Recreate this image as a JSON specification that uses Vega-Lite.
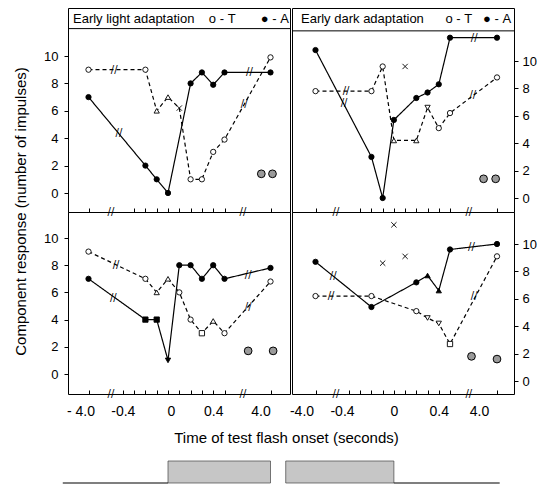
{
  "$schema": "https://vega.github.io/schema/vega-lite/v6.json",
  "padding": {"left": 12, "top": 7, "right": 0, "bottom": 0},
  "background": "white",
  "config": {
    "view": {"stroke": "black", "strokeWidth": 1},
    "axis": {"labelFont": "Liberation Sans", "titleFont": "Liberation Sans", "labelColor": "black", "tickColor": "black", "titleColor": "black", "grid": false, "domain": false, "titleFontWeight": "normal", "labelOverlap": false, "labelBound": false, "labelFlush": false, "tickCount": 30},
    "text": {"font": "DejaVu Sans"}
  },
  "datasets": {
    "d": [
      {"p": "TL", "s": "T", "t": -4, "v": 9, "m": "o"},
      {"p": "TL", "s": "T", "t": -0.2, "v": 9, "m": "o"},
      {"p": "TL", "s": "T", "t": -0.1, "v": 6, "m": "tu"},
      {"p": "TL", "s": "T", "t": 0, "v": 7, "m": "tu"},
      {"p": "TL", "s": "T", "t": 0.1, "v": 6.2, "m": "x"},
      {"p": "TL", "s": "T", "t": 0.2, "v": 1, "m": "o"},
      {"p": "TL", "s": "T", "t": 0.3, "v": 1, "m": "o"},
      {"p": "TL", "s": "T", "t": 0.4, "v": 3, "m": "o"},
      {"p": "TL", "s": "T", "t": 0.5, "v": 3.9, "m": "o"},
      {"p": "TL", "s": "T", "t": 4, "v": 9.9, "m": "o"},
      {"p": "TL", "s": "A", "t": -4, "v": 7, "m": "o"},
      {"p": "TL", "s": "A", "t": -0.2, "v": 2, "m": "o"},
      {"p": "TL", "s": "A", "t": -0.1, "v": 1, "m": "o"},
      {"p": "TL", "s": "A", "t": 0, "v": 0, "m": "o"},
      {"p": "TL", "s": "A", "t": 0.2, "v": 8, "m": "o"},
      {"p": "TL", "s": "A", "t": 0.3, "v": 8.8, "m": "o"},
      {"p": "TL", "s": "A", "t": 0.4, "v": 7.9, "m": "o"},
      {"p": "TL", "s": "A", "t": 0.5, "v": 8.8, "m": "o"},
      {"p": "TL", "s": "A", "t": 4, "v": 8.8, "m": "o"},
      {"p": "TL", "s": "brk", "t": -1.3, "v": 9},
      {"p": "TL", "s": "brk", "t": -0.8, "v": 4.4},
      {"p": "TL", "s": "brk", "t": 2.0, "v": 6.5},
      {"p": "TL", "s": "brk", "t": 2.4, "v": 8.8},
      {"p": "TL", "s": "brk", "t": -1.64, "v": -1.39},
      {"p": "TL", "s": "brk", "t": 1.9, "v": -1.39},
      {"p": "TL", "s": "hatch", "t": 3.3, "v": 1.4},
      {"p": "TL", "s": "hatch", "t": 4.15, "v": 1.4},

      {"p": "TR", "s": "A", "t": -4, "v": 10.8, "m": "o"},
      {"p": "TR", "s": "A", "t": -0.2, "v": 3.0, "m": "o"},
      {"p": "TR", "s": "A", "t": -0.1, "v": 0, "m": "o"},
      {"p": "TR", "s": "A", "t": 0, "v": 5.7, "m": "o"},
      {"p": "TR", "s": "A", "t": 0.2, "v": 7.3, "m": "o"},
      {"p": "TR", "s": "A", "t": 0.3, "v": 7.7, "m": "o"},
      {"p": "TR", "s": "A", "t": 0.4, "v": 8.3, "m": "o"},
      {"p": "TR", "s": "A", "t": 0.5, "v": 11.7, "m": "o"},
      {"p": "TR", "s": "A", "t": 4, "v": 11.7, "m": "o"},
      {"p": "TR", "s": "T", "t": -4, "v": 7.8, "m": "o"},
      {"p": "TR", "s": "T", "t": -0.2, "v": 7.8, "m": "o"},
      {"p": "TR", "s": "T", "t": -0.1, "v": 9.6, "m": "o"},
      {"p": "TR", "s": "T", "t": 0, "v": 4.2, "m": "tu"},
      {"p": "TR", "s": "T", "t": 0.2, "v": 4.2, "m": "tu"},
      {"p": "TR", "s": "T", "t": 0.3, "v": 6.6, "m": "td"},
      {"p": "TR", "s": "T", "t": 0.4, "v": 5.1, "m": "o"},
      {"p": "TR", "s": "T", "t": 0.5, "v": 6.2, "m": "o"},
      {"p": "TR", "s": "T", "t": 4, "v": 8.8, "m": "o"},
      {"p": "TR", "s": "X", "t": 0.1, "v": 9.6, "m": "x"},
      {"p": "TR", "s": "brk", "t": -0.72, "v": 7.8},
      {"p": "TR", "s": "brk", "t": -0.93, "v": 6.9},
      {"p": "TR", "s": "brk", "t": 2.2, "v": 7.5},
      {"p": "TR", "s": "brk", "t": 2.3, "v": 11.7},
      {"p": "TR", "s": "brk", "t": -1.8, "v": -1.02},
      {"p": "TR", "s": "brk", "t": 1.9, "v": -1.02},
      {"p": "TR", "s": "hatch", "t": 3.0, "v": 1.4},
      {"p": "TR", "s": "hatch", "t": 3.9, "v": 1.4},

      {"p": "BL", "s": "T", "t": -4, "v": 9, "m": "o"},
      {"p": "BL", "s": "T", "t": -0.2, "v": 7, "m": "o"},
      {"p": "BL", "s": "T", "t": -0.1, "v": 6, "m": "tu"},
      {"p": "BL", "s": "T", "t": 0, "v": 7, "m": "tu"},
      {"p": "BL", "s": "T", "t": 0.1, "v": 6, "m": "o"},
      {"p": "BL", "s": "T", "t": 0.2, "v": 4, "m": "o"},
      {"p": "BL", "s": "T", "t": 0.3, "v": 3, "m": "s"},
      {"p": "BL", "s": "T", "t": 0.4, "v": 3.9, "m": "tu"},
      {"p": "BL", "s": "T", "t": 0.5, "v": 3, "m": "o"},
      {"p": "BL", "s": "T", "t": 4, "v": 6.8, "m": "o"},
      {"p": "BL", "s": "A", "t": -4, "v": 7, "m": "o"},
      {"p": "BL", "s": "A", "t": -0.2, "v": 4, "m": "s"},
      {"p": "BL", "s": "A", "t": -0.1, "v": 4, "m": "s"},
      {"p": "BL", "s": "A", "t": 0, "v": 1, "m": "td"},
      {"p": "BL", "s": "A", "t": 0.1, "v": 8, "m": "o"},
      {"p": "BL", "s": "A", "t": 0.2, "v": 8, "m": "o"},
      {"p": "BL", "s": "A", "t": 0.3, "v": 7, "m": "o"},
      {"p": "BL", "s": "A", "t": 0.4, "v": 8, "m": "o"},
      {"p": "BL", "s": "A", "t": 0.5, "v": 7, "m": "o"},
      {"p": "BL", "s": "A", "t": 4, "v": 7.8, "m": "o"},
      {"p": "BL", "s": "brk", "t": -1.1, "v": 8.0},
      {"p": "BL", "s": "brk", "t": -1.4, "v": 5.6},
      {"p": "BL", "s": "brk", "t": 2.3, "v": 4.9},
      {"p": "BL", "s": "brk", "t": 2.3, "v": 7.3},
      {"p": "BL", "s": "brk", "t": -1.64, "v": -1.47},
      {"p": "BL", "s": "brk", "t": 1.9, "v": -1.47},
      {"p": "BL", "s": "hatch", "t": 2.3, "v": 1.7},
      {"p": "BL", "s": "hatch", "t": 4.2, "v": 1.7},

      {"p": "BR", "s": "A", "t": -4, "v": 8.7, "m": "o"},
      {"p": "BR", "s": "A", "t": -0.2, "v": 5.4, "m": "o"},
      {"p": "BR", "s": "A", "t": 0.2, "v": 7.2, "m": "o"},
      {"p": "BR", "s": "A", "t": 0.3, "v": 7.7, "m": "tu"},
      {"p": "BR", "s": "A", "t": 0.4, "v": 6.6, "m": "tu"},
      {"p": "BR", "s": "A", "t": 0.5, "v": 9.6, "m": "o"},
      {"p": "BR", "s": "A", "t": 4, "v": 10.0, "m": "o"},
      {"p": "BR", "s": "T", "t": -4, "v": 6.2, "m": "o"},
      {"p": "BR", "s": "T", "t": -0.2, "v": 6.2, "m": "o"},
      {"p": "BR", "s": "T", "t": 0.2, "v": 5.1, "m": "o"},
      {"p": "BR", "s": "T", "t": 0.3, "v": 4.6, "m": "td"},
      {"p": "BR", "s": "T", "t": 0.4, "v": 4.2, "m": "td"},
      {"p": "BR", "s": "T", "t": 0.5, "v": 2.7, "m": "s"},
      {"p": "BR", "s": "T", "t": 4, "v": 9.1, "m": "o"},
      {"p": "BR", "s": "X", "t": 0, "v": 11.4, "m": "x"},
      {"p": "BR", "s": "X", "t": -0.1, "v": 8.6, "m": "x"},
      {"p": "BR", "s": "X", "t": 0.1, "v": 9.1, "m": "x"},
      {"p": "BR", "s": "brk", "t": -2.1, "v": 7.7},
      {"p": "BR", "s": "brk", "t": -2.33, "v": 6.2},
      {"p": "BR", "s": "brk", "t": 2.1, "v": 9.8},
      {"p": "BR", "s": "brk", "t": 2.3, "v": 6.2},
      {"p": "BR", "s": "brk", "t": -1.8, "v": -0.95},
      {"p": "BR", "s": "brk", "t": 1.9, "v": -0.95},
      {"p": "BR", "s": "hatch", "t": 2.1, "v": 1.8},
      {"p": "BR", "s": "hatch", "t": 4.0, "v": 1.6}
    ],
    "stim": [
      {"p": "L", "k": "off", "t0": -6.7, "t1": 0, "lvl": 0},
      {"p": "L", "k": "on", "t0": 0, "t1": 4.0, "lvl": 1},
      {"p": "R", "k": "on", "t0": -7.2, "t1": 0, "lvl": 1},
      {"p": "R", "k": "off", "t0": 0, "t1": 4.2, "lvl": 0}
    ]
  },
  "columns": 2,
  "spacing": {"row": 0, "column": 2},
  "bounds": "flush",
  "concat": [
    {
      "width": 222, "height": 204,
      "title": {"text": "Early light adaptation\u00a0\u00a0\u00a0\u00a0o\u00a0-\u00a0T\u00a0\u00a0\u00a0\u00a0\u00a0\u00a0\u00a0\u25cf\u00a0-\u00a0A", "frame": "group", "anchor": "start", "offset": -18, "dx": 5, "fontSize": 13, "fontWeight": "normal", "font": "Liberation Sans", "color": "black"},
      "layer": [
        {"data": {"values": [{}]}, "mark": {"type": "rule", "color": "black", "strokeWidth": 1},
         "encoding": {"y": {"datum": 12.0, "type": "quantitative", "scale": {"domain": [0, 10], "range": [185, 48]}}}},
        {"data": {"name": "d"}, "transform": [{"filter": "datum.p=='TL' && (datum.s=='A' || datum.s=='T')"}],
         "mark": {"type": "line", "color": "black", "strokeWidth": 1.2},
         "encoding": {
           "x": {"field": "t", "type": "quantitative", "scale": {"domain": [-4, -0.4, 0.5, 4], "range": [20.5, 54.8, 156.5, 202.5]},
                 "axis": {"values": [-4, -0.3, -0.2, -0.1, 0, 0.1, 0.2, 0.3, 0.4, 0.5, 4], "tickCount": 30, "labels": false, "tickSize": -4, "title": null}},
           "y": {"field": "v", "type": "quantitative", "scale": {"domain": [0, 10], "range": [185, 48]},
                 "axis": {"values": [0, 2, 4, 6, 8, 10], "format": "d", "tickCount": 30, "tickSize": 4, "labelPadding": 6, "labelFontSize": 13, "title": null}},
           "detail": {"field": "s"},
           "strokeDash": {"field": "s", "type": "nominal", "scale": {"domain": ["A", "T"], "range": [[1, 0], [4, 3]]}, "legend": null}}},
        {"data": {"name": "d"}, "transform": [{"filter": "datum.p=='TL' && (datum.s=='A' || datum.s=='T' || datum.s=='X')"}],
         "mark": {"type": "point", "filled": true, "stroke": "black", "strokeWidth": 0.9, "size": 28, "opacity": 1},
         "encoding": {
           "x": {"field": "t", "type": "quantitative"},
           "y": {"field": "v", "type": "quantitative"},
           "fill": {"field": "s", "type": "nominal", "scale": {"domain": ["A", "T", "X"], "range": ["black", "white", "white"]}, "legend": null},
           "shape": {"field": "m", "type": "nominal", "scale": {"domain": ["o", "s", "tu", "td", "x"], "range": ["circle", "square", "triangle-up", "triangle-down", "M-1,-1L1,1M-1,1L1,-1"]}, "legend": null}}},
        {"data": {"name": "d"}, "transform": [{"filter": "datum.p=='TL' && datum.s=='brk'"}],
         "mark": {"type": "text", "text": "//", "fontSize": 10, "color": "black", "baseline": "middle", "align": "center"},
         "encoding": {"x": {"field": "t", "type": "quantitative"}, "y": {"field": "v", "type": "quantitative"}}},
        {"data": {"name": "d"}, "transform": [{"filter": "datum.p=='TL' && datum.s=='hatch'"}],
         "mark": {"type": "point", "shape": "circle", "filled": true, "fill": "#9a9a9a", "stroke": "black", "strokeWidth": 1, "size": 60, "opacity": 1},
         "encoding": {"x": {"field": "t", "type": "quantitative"}, "y": {"field": "v", "type": "quantitative"}}}
      ]
    },
    {
      "width": 222, "height": 204,
      "title": {"text": "Early dark adaptation\u00a0\u00a0\u00a0\u00a0\u00a0\u00a0o\u00a0-\u00a0T\u00a0\u00a0\u00a0\u25cf\u00a0-\u00a0A", "frame": "group", "anchor": "start", "offset": -18, "dx": 9, "fontSize": 13, "fontWeight": "normal", "font": "Liberation Sans", "color": "black"},
      "layer": [
        {"data": {"values": [{}]}, "mark": {"type": "rule", "color": "black", "strokeWidth": 1},
         "encoding": {"y": {"datum": 12.2, "type": "quantitative", "scale": {"domain": [0, 10], "range": [190, 53]}}}},
        {"data": {"name": "d"}, "transform": [{"filter": "datum.p=='TR' && (datum.s=='A' || datum.s=='T')"}],
         "mark": {"type": "line", "color": "black", "strokeWidth": 1.2},
         "encoding": {
           "x": {"field": "t", "type": "quantitative", "scale": {"domain": [-4, -0.4, 0.5, 4], "range": [23.5, 57, 158, 205]},
                 "axis": {"values": [-4, -0.3, -0.2, -0.1, 0, 0.1, 0.2, 0.3, 0.4, 0.5, 4], "tickCount": 30, "labels": false, "tickSize": -4, "title": null}},
           "y": {"field": "v", "type": "quantitative", "scale": {"domain": [0, 10], "range": [190, 53]},
                 "axis": {"orient": "right", "values": [0, 2, 4, 6, 8, 10], "format": "d", "tickCount": 30, "tickSize": 4, "labelPadding": 4, "labelFontSize": 13, "title": null}},
           "detail": {"field": "s"},
           "strokeDash": {"field": "s", "type": "nominal", "scale": {"domain": ["A", "T"], "range": [[1, 0], [4, 3]]}, "legend": null}}},
        {"data": {"name": "d"}, "transform": [{"filter": "datum.p=='TR' && (datum.s=='A' || datum.s=='T' || datum.s=='X')"}],
         "mark": {"type": "point", "filled": true, "stroke": "black", "strokeWidth": 0.9, "size": 28, "opacity": 1},
         "encoding": {
           "x": {"field": "t", "type": "quantitative"},
           "y": {"field": "v", "type": "quantitative"},
           "fill": {"field": "s", "type": "nominal", "scale": {"domain": ["A", "T", "X"], "range": ["black", "white", "white"]}, "legend": null},
           "shape": {"field": "m", "type": "nominal", "scale": {"domain": ["o", "s", "tu", "td", "x"], "range": ["circle", "square", "triangle-up", "triangle-down", "M-1,-1L1,1M-1,1L1,-1"]}, "legend": null}}},
        {"data": {"name": "d"}, "transform": [{"filter": "datum.p=='TR' && datum.s=='brk'"}],
         "mark": {"type": "text", "text": "//", "fontSize": 10, "color": "black", "baseline": "middle", "align": "center"},
         "encoding": {"x": {"field": "t", "type": "quantitative"}, "y": {"field": "v", "type": "quantitative"}}},
        {"data": {"name": "d"}, "transform": [{"filter": "datum.p=='TR' && datum.s=='hatch'"}],
         "mark": {"type": "point", "shape": "circle", "filled": true, "fill": "#9a9a9a", "stroke": "black", "strokeWidth": 1, "size": 60, "opacity": 1},
         "encoding": {"x": {"field": "t", "type": "quantitative"}, "y": {"field": "v", "type": "quantitative"}}}
      ]
    },
    {
      "width": 222, "height": 182,
      "layer": [
        {"data": {"name": "d"}, "transform": [{"filter": "datum.p=='BL' && (datum.s=='A' || datum.s=='T')"}],
         "mark": {"type": "line", "color": "black", "strokeWidth": 1.2},
         "encoding": {
           "x": {"field": "t", "type": "quantitative", "scale": {"domain": [-4, -0.4, 0.5, 4], "range": [20.5, 54.8, 156.5, 202.5]},
                 "axis": {"values": [-4, -0.4, -0.3, -0.2, -0.1, 0, 0.1, 0.2, 0.3, 0.4, 0.5, 4], "tickCount": 30, "tickSize": -4, "labelPadding": 14, "labelFontSize": 14,
                          "labelExpr": "datum.value == -4 ? '- 4.0' : datum.value == -0.4 ? '-0.4' : datum.value == 0 ? '0' : datum.value == 0.4 ? '0.4' : datum.value == 4 ? '4.0' : ''",
                          "labelOffset": {"condition": [{"test": "datum.value == -4", "value": -8}, {"test": "datum.value == 4", "value": -10}, {"test": "datum.value == 0", "value": 3}], "value": 0},
                          "title": "Time of test flash onset (seconds)", "titleFontSize": 15, "titleX": 218, "titleY": 36}},
           "y": {"field": "v", "type": "quantitative", "scale": {"domain": [0, 10], "range": [162, 26]},
                 "axis": {"values": [0, 2, 4, 6, 8, 10], "format": "d", "tickCount": 30, "tickSize": 4, "labelPadding": 6, "labelFontSize": 13,
                          "title": "Component response (number of impulses)", "titleFontSize": 15, "titleX": -40, "titleY": -1}},
           "detail": {"field": "s"},
           "strokeDash": {"field": "s", "type": "nominal", "scale": {"domain": ["A", "T"], "range": [[1, 0], [4, 3]]}, "legend": null}}},
        {"data": {"name": "d"}, "transform": [{"filter": "datum.p=='BL' && (datum.s=='A' || datum.s=='T' || datum.s=='X')"}],
         "mark": {"type": "point", "filled": true, "stroke": "black", "strokeWidth": 0.9, "size": 28, "opacity": 1},
         "encoding": {
           "x": {"field": "t", "type": "quantitative"},
           "y": {"field": "v", "type": "quantitative"},
           "fill": {"field": "s", "type": "nominal", "scale": {"domain": ["A", "T", "X"], "range": ["black", "white", "white"]}, "legend": null},
           "shape": {"field": "m", "type": "nominal", "scale": {"domain": ["o", "s", "tu", "td", "x"], "range": ["circle", "square", "triangle-up", "triangle-down", "M-1,-1L1,1M-1,1L1,-1"]}, "legend": null}}},
        {"data": {"name": "d"}, "transform": [{"filter": "datum.p=='BL' && datum.s=='brk'"}],
         "mark": {"type": "text", "text": "//", "fontSize": 10, "color": "black", "baseline": "middle", "align": "center"},
         "encoding": {"x": {"field": "t", "type": "quantitative"}, "y": {"field": "v", "type": "quantitative"}}},
        {"data": {"name": "d"}, "transform": [{"filter": "datum.p=='BL' && datum.s=='hatch'"}],
         "mark": {"type": "point", "shape": "circle", "filled": true, "fill": "#9a9a9a", "stroke": "black", "strokeWidth": 1, "size": 60, "opacity": 1},
         "encoding": {"x": {"field": "t", "type": "quantitative"}, "y": {"field": "v", "type": "quantitative"}}}
      ]
    },
    {
      "width": 222, "height": 182,
      "layer": [
        {"data": {"name": "d"}, "transform": [{"filter": "datum.p=='BR' && (datum.s=='A' || datum.s=='T')"}],
         "mark": {"type": "line", "color": "black", "strokeWidth": 1.2},
         "encoding": {
           "x": {"field": "t", "type": "quantitative", "scale": {"domain": [-4, -0.4, 0.5, 4], "range": [23.5, 57, 158, 205]},
                 "axis": {"values": [-4, -0.4, -0.3, -0.2, -0.1, 0, 0.1, 0.2, 0.3, 0.4, 0.5, 4], "tickCount": 30, "tickSize": -4, "labelPadding": 14, "labelFontSize": 14,
                          "labelExpr": "datum.value == -4 ? '-4.0' : datum.value == -0.4 ? '-0.4' : datum.value == 0 ? '0' : datum.value == 0.4 ? '0.4' : datum.value == 4 ? '4.0' : ''",
                          "labelOffset": {"condition": [{"test": "datum.value == -4", "value": -14}, {"test": "datum.value == -0.4", "value": -7}, {"test": "datum.value == 4", "value": -18}], "value": 0},
                          "title": null}},
           "y": {"field": "v", "type": "quantitative", "scale": {"domain": [0, 10], "range": [169, 32]},
                 "axis": {"orient": "right", "values": [0, 2, 4, 6, 8, 10], "format": "d", "tickCount": 30, "tickSize": 4, "labelPadding": 4, "labelFontSize": 13, "title": null}},
           "detail": {"field": "s"},
           "strokeDash": {"field": "s", "type": "nominal", "scale": {"domain": ["A", "T"], "range": [[1, 0], [4, 3]]}, "legend": null}}},
        {"data": {"name": "d"}, "transform": [{"filter": "datum.p=='BR' && (datum.s=='A' || datum.s=='T' || datum.s=='X')"}],
         "mark": {"type": "point", "filled": true, "stroke": "black", "strokeWidth": 0.9, "size": 28, "opacity": 1},
         "encoding": {
           "x": {"field": "t", "type": "quantitative"},
           "y": {"field": "v", "type": "quantitative"},
           "fill": {"field": "s", "type": "nominal", "scale": {"domain": ["A", "T", "X"], "range": ["black", "white", "white"]}, "legend": null},
           "shape": {"field": "m", "type": "nominal", "scale": {"domain": ["o", "s", "tu", "td", "x"], "range": ["circle", "square", "triangle-up", "triangle-down", "M-1,-1L1,1M-1,1L1,-1"]}, "legend": null}}},
        {"data": {"name": "d"}, "transform": [{"filter": "datum.p=='BR' && datum.s=='brk'"}],
         "mark": {"type": "text", "text": "//", "fontSize": 10, "color": "black", "baseline": "middle", "align": "center"},
         "encoding": {"x": {"field": "t", "type": "quantitative"}, "y": {"field": "v", "type": "quantitative"}}},
        {"data": {"name": "d"}, "transform": [{"filter": "datum.p=='BR' && datum.s=='hatch'"}],
         "mark": {"type": "point", "shape": "circle", "filled": true, "fill": "#9a9a9a", "stroke": "black", "strokeWidth": 1, "size": 60, "opacity": 1},
         "encoding": {"x": {"field": "t", "type": "quantitative"}, "y": {"field": "v", "type": "quantitative"}}}
      ]
    },
    {
      "width": 222, "height": 92, "view": {"stroke": null},
      "data": {"name": "stim"},
      "transform": [{"filter": "datum.p=='L'"}],
      "layer": [
        {"transform": [{"filter": "datum.k=='on'"}],
         "mark": {"type": "rect", "fill": "#c6c6c6", "stroke": "#444", "strokeWidth": 0.7},
         "encoding": {
           "x": {"field": "t0", "type": "quantitative", "scale": {"domain": [-4, -0.4, 0.5, 4], "range": [20.5, 54.8, 156.5, 202.5]}, "axis": null},
           "x2": {"field": "t1"},
           "y": {"field": "lvl", "type": "quantitative", "scale": {"domain": [0, 1], "range": [89, 67]}, "axis": null},
           "y2": {"datum": 0}}},
        {"transform": [{"filter": "datum.k=='off'"}],
         "mark": {"type": "rule", "color": "black", "strokeWidth": 1.2},
         "encoding": {
           "x": {"field": "t0", "type": "quantitative"},
           "x2": {"field": "t1"},
           "y": {"field": "lvl", "type": "quantitative"}}}
      ]
    },
    {
      "width": 222, "height": 92, "view": {"stroke": null},
      "data": {"name": "stim"},
      "transform": [{"filter": "datum.p=='R'"}],
      "layer": [
        {"transform": [{"filter": "datum.k=='on'"}],
         "mark": {"type": "rect", "fill": "#c6c6c6", "stroke": "#444", "strokeWidth": 0.7},
         "encoding": {
           "x": {"field": "t0", "type": "quantitative", "scale": {"domain": [-4, -0.4, 0.5, 4], "range": [23.5, 57, 158, 205]}, "axis": null},
           "x2": {"field": "t1"},
           "y": {"field": "lvl", "type": "quantitative", "scale": {"domain": [0, 1], "range": [89, 67]}, "axis": null},
           "y2": {"datum": 0}}},
        {"transform": [{"filter": "datum.k=='off'"}],
         "mark": {"type": "rule", "color": "black", "strokeWidth": 1.2},
         "encoding": {
           "x": {"field": "t0", "type": "quantitative"},
           "x2": {"field": "t1"},
           "y": {"field": "lvl", "type": "quantitative"}}}
      ]
    }
  ]
}
